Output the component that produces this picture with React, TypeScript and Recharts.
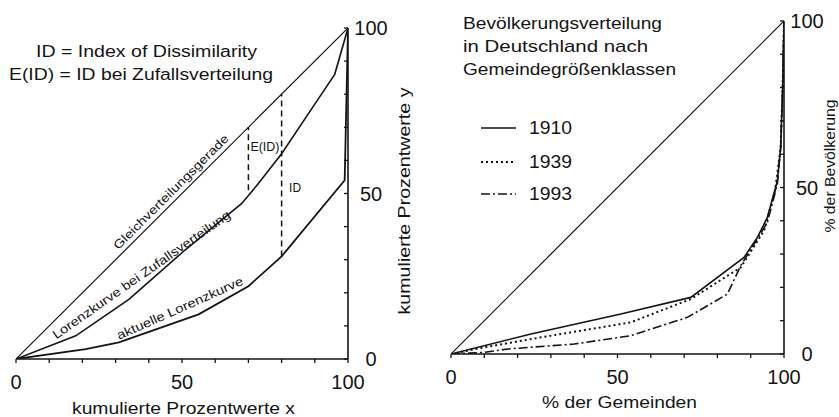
import React from 'react';
import { LineChart, Line, XAxis, YAxis, ReferenceLine, ReferenceDot, Legend } from 'recharts';

// ---------- data: left panel (Lorenz curves) ----------
const equalX = [0, 100];
const equalY = [0, 100];
const randomX = [0, 18, 34, 51, 68, 73, 80, 90, 96, 100];
const randomY = [0, 7, 18, 33, 47, 53, 62, 77, 86, 100];
const actualX = [0, 21, 31, 55, 70, 80, 99, 100];
const actualY = [0, 3, 5, 13.5, 22, 31, 54, 100];
const eidX = 70;
const eidRange = [51, 70];
const idX = 80;
const idRange = [31, 80];

// ---------- data: right panel (population distribution) ----------
const years = ['1910', '1939', '1993'];
const x1910 = [0, 24, 51, 72, 88, 92, 95, 98, 99, 99.6, 100];
const y1910 = [0, 6, 12, 17, 29, 35, 41, 52, 62, 80, 100];
const x1939 = [0, 10, 27, 54, 72, 87, 94, 97.3, 99, 99.6, 100];
const y1939 = [0, 2, 5, 9.5, 16.5, 26, 37, 49, 62, 80, 100];
const x1993 = [0, 10, 17, 37, 54, 71, 83, 87, 95, 98, 99, 99.6, 100];
const y1993 = [0, 0.5, 1.5, 3, 5.5, 11, 18, 26.5, 39.5, 51, 62, 80, 100];

// ---------- ticks ----------
const minorTicks = [0, 10, 20, 30, 40, 50, 60, 70, 80, 90, 100];
const labeledTicks = [0, 50, 100];

const zip = (xs: number[], ys: number[]) => xs.map((x, i) => ({ x, y: ys[i] }));
const equalData = zip(equalX, equalY);
const randomData = zip(randomX, randomY);
const actualData = zip(actualX, actualY);
const data1910 = zip(x1910, y1910);
const data1939 = zip(x1939, y1939);
const data1993 = zip(x1993, y1993);

const FONT = "'Liberation Sans', Arial, Helvetica, sans-serif";
const INK = '#141414';

const yearStyle: Record<string, { dash?: string; width: number }> = {
  '1910': { width: 1.6 },
  '1939': { dash: '2 3', width: 2 },
  '1993': { dash: '9 3 2 3', width: 1.6 },
};

const XTick = (props: any) => {
  const { x, y, payload } = props;
  const v = payload.value;
  return (
    <g>
      <line x1={x} y1={y} x2={x} y2={y + 4} stroke={INK} strokeWidth={1.3} />
      {labeledTicks.includes(v) && (
        <text x={x} y={y + 23} textAnchor="middle" dominantBaseline="central" fontSize={20} fontFamily={FONT} fill={INK}>
          {v}
        </text>
      )}
    </g>
  );
};

const YTick = (props: any) => {
  const { x, y, payload } = props;
  const v = payload.value;
  return (
    <g>
      <line x1={x - 4} y1={y} x2={x} y2={y} stroke={INK} strokeWidth={1.3} />
      {labeledTicks.includes(v) && (
        <text x={x + 23} y={y} textAnchor="middle" dominantBaseline="central" fontSize={20} fontFamily={FONT} fill={INK}>
          {v}
        </text>
      )}
    </g>
  );
};

const rotLabel = (text: string, angle: number, fontSize: number, len: number, anchor: string = 'middle', dx = 0) => (props: any) => {
  const vb = props.viewBox || {};
  const cx = (vb.x ?? 0) + (vb.width ?? 0) / 2 + dx;
  const cy = (vb.y ?? 0) + (vb.height ?? 0) / 2;
  return (
    <text
      x={cx}
      y={cy}
      transform={angle ? `rotate(${angle} ${cx} ${cy})` : undefined}
      textAnchor={anchor}
      dominantBaseline="central"
      fontSize={fontSize}
      fontFamily={FONT}
      fill={INK}
      textLength={len}
      lengthAdjust="spacingAndGlyphs"
    >
      {text}
    </text>
  );
};

const renderLegend = (props: any) => {
  const payload = (props.payload || []).filter((p: any) => years.includes(String(p.value)));
  const rowY = [20, 54, 86];
  return (
    <svg width={130} height={100} style={{ overflow: 'visible' }}>
      {payload.map((p: any, i: number) => {
        const st = yearStyle[String(p.value)];
        return (
          <g key={p.value}>
            <line x1={1} y1={rowY[i]} x2={36} y2={rowY[i]} stroke={INK} strokeWidth={st.width} strokeDasharray={st.dash} />
            <text x={49} y={rowY[i] + 6} fontSize={18} fontFamily={FONT} fill={INK} textLength={43} lengthAdjust="spacingAndGlyphs">
              {p.value}
            </text>
          </g>
        );
      })}
    </svg>
  );
};

const axisLine = { stroke: INK, strokeWidth: 1.6 };

export default function App() {
  return (
    <div style={{ position: 'absolute', left: 0, top: 0, width: 839, height: 417, background: '#fff', fontFamily: FONT, overflow: 'hidden' }}>
      <div style={{ position: 'absolute', left: 0, top: 0 }}>
        <LineChart width={420} height={417} margin={{ top: 28, left: 16, right: 32, bottom: 28 }}>
          <XAxis type="number" dataKey="x" domain={[0, 100]} ticks={minorTicks} interval={0} tickSize={0} tickMargin={0} tick={XTick} tickLine={false} axisLine={axisLine} height={30} allowDataOverflow />
          <YAxis type="number" orientation="right" domain={[0, 100]} ticks={minorTicks} interval={0} tickSize={0} tickMargin={0} tick={YTick} tickLine={false} axisLine={axisLine} width={40} allowDataOverflow />
          <Line data={equalData} dataKey="y" type="linear" stroke={INK} strokeWidth={1.2} dot={false} isAnimationActive={false} />
          <Line data={randomData} dataKey="y" type="linear" stroke={INK} strokeWidth={1.6} dot={false} isAnimationActive={false} />
          <Line data={actualData} dataKey="y" type="linear" stroke={INK} strokeWidth={1.8} dot={false} isAnimationActive={false} />
          <ReferenceLine segment={[{ x: eidX, y: eidRange[0] }, { x: eidX, y: eidRange[1] }]} stroke={INK} strokeWidth={1.5} strokeDasharray="6 4" ifOverflow="visible" />
          <ReferenceLine segment={[{ x: idX, y: idRange[0] }, { x: idX, y: idRange[1] }]} stroke={INK} strokeWidth={1.5} strokeDasharray="6 4" ifOverflow="visible" />
          <ReferenceDot x={46.7} y={50.5} r={0} fill="none" stroke="none" label={rotLabel('Gleichverteilungsgerade', -45, 12, 157)} />
          <ReferenceDot x={37.8} y={25.4} r={0} fill="none" stroke="none" label={rotLabel('Lorenzkurve bei Zufallsverteilung', -35, 12.5, 214)} />
          <ReferenceDot x={49.4} y={15.3} r={0} fill="none" stroke="none" label={rotLabel('aktuelle Lorenzkurve', -24, 12.5, 137)} />
          <ReferenceDot x={eidX} y={64} r={0} fill="none" stroke="none" label={rotLabel('E(ID)', 0, 12, 29, 'start', 2)} />
          <ReferenceDot x={idX} y={51.7} r={0} fill="none" stroke="none" label={rotLabel('ID', 0, 12, 12, 'start', 7.5)} />
        </LineChart>
      </div>
      <div style={{ position: 'absolute', left: 420, top: 0 }}>
        <LineChart width={419} height={417} margin={{ top: 21, left: 31, right: 15, bottom: 33 }}>
          <XAxis type="number" dataKey="x" domain={[0, 100]} ticks={minorTicks} interval={0} tickSize={0} tickMargin={0} tick={XTick} tickLine={false} axisLine={axisLine} height={30} allowDataOverflow />
          <YAxis type="number" orientation="right" domain={[0, 100]} ticks={minorTicks} interval={0} tickSize={0} tickMargin={0} tick={YTick} tickLine={false} axisLine={axisLine} width={40} allowDataOverflow />
          <Legend layout="vertical" align="center" verticalAlign="middle" content={renderLegend} wrapperStyle={{ left: 60, top: 108, width: 130, height: 100 }} />
          <Line data={equalData} dataKey="y" type="linear" stroke={INK} strokeWidth={1.2} dot={false} isAnimationActive={false} legendType="none" name="diag" />
          <Line data={data1910} dataKey="y" name={years[0]} type="linear" stroke={INK} strokeWidth={yearStyle['1910'].width} dot={false} isAnimationActive={false} />
          <Line data={data1939} dataKey="y" name={years[1]} type="linear" stroke={INK} strokeWidth={yearStyle['1939'].width} strokeDasharray={yearStyle['1939'].dash} dot={false} isAnimationActive={false} />
          <Line data={data1993} dataKey="y" name={years[2]} type="linear" stroke={INK} strokeWidth={yearStyle['1993'].width} strokeDasharray={yearStyle['1993'].dash} dot={false} isAnimationActive={false} />
        </LineChart>
      </div>
      <svg width={839} height={417} style={{ position: 'absolute', left: 0, top: 0, pointerEvents: 'none' }} fontFamily={FONT} fill={INK}>
        <text x={36} y={57} fontSize={16} textLength={221} lengthAdjust="spacingAndGlyphs">ID = Index of Dissimilarity</text>
        <text x={9} y={80} fontSize={16} textLength={264} lengthAdjust="spacingAndGlyphs">E(ID) = ID bei Zufallsverteilung</text>
        <text x={72} y={414} fontSize={17} textLength={223} lengthAdjust="spacingAndGlyphs">kumulierte Prozentwerte x</text>
        <text transform="translate(404,201) rotate(-90)" textAnchor="middle" dominantBaseline="central" fontSize={17} textLength={227} lengthAdjust="spacingAndGlyphs">kumulierte Prozentwerte y</text>
        <text x={463} y={29} fontSize={17} textLength={199} lengthAdjust="spacingAndGlyphs">Bevölkerungsverteilung</text>
        <text x={463} y={52} fontSize={17} textLength={185} lengthAdjust="spacingAndGlyphs">in  Deutschland nach</text>
        <text x={463} y={75} fontSize={17} textLength={213} lengthAdjust="spacingAndGlyphs">Gemeindegrößenklassen</text>
        <text x={542} y={408} fontSize={17} textLength={155} lengthAdjust="spacingAndGlyphs">% der Gemeinden</text>
        <text transform="translate(829,166) rotate(-90)" textAnchor="middle" dominantBaseline="central" fontSize={15} textLength={133} lengthAdjust="spacingAndGlyphs">% der Bevölkerung</text>
      </svg>
    </div>
  );
}
